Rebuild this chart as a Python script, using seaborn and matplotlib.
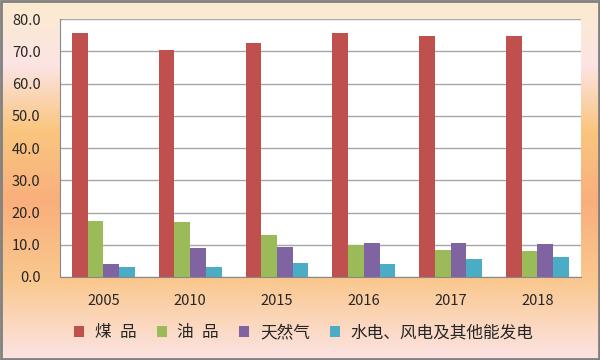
import numpy as np
import pandas as pd
import seaborn as sns
import matplotlib.pyplot as plt
from matplotlib.colors import LinearSegmentedColormap

years = ['2005', '2010', '2015', '2016', '2017', '2018']
types = ['煤\u2002品', '油\u2002品', '天然气', '水电、风电及其他能发电']
coal = [75.6, 70.4, 72.6, 75.6, 74.7, 74.7]
oil = [17.3, 17.0, 13.0, 9.8, 8.4, 8.1]
gas = [3.9, 8.9, 9.3, 10.4, 10.5, 10.3]
hydro = [3.0, 3.1, 4.3, 3.9, 5.6, 6.2]
colors = ['#C0504D', '#9BBB59', '#8064A2', '#4BACC6']

rows = []
for name, vals in zip(types, [coal, oil, gas, hydro]):
    for y, v in zip(years, vals):
        rows.append({'year': y, 'type': name, 'value': v})
df = pd.DataFrame(rows)

sns.set_style('white')
plt.rcParams['font.family'] = ['Noto Sans CJK SC', 'DejaVu Sans']

fig = plt.figure(figsize=(6, 3.6), dpi=100)

# gradient background
bg = fig.add_axes([0, 0, 1, 1], zorder=-10)
cmap = LinearSegmentedColormap.from_list('bg', [
    (0.0, '#FBEBCF'), (0.18, '#FCE4E4'), (0.36, '#FAC67F'),
    (0.56, '#F9AF7C'), (0.78, '#FAC88F'), (1.0, '#FCE4E4')])
bg.imshow(np.linspace(0, 1, 256).reshape(-1, 1), aspect='auto', cmap=cmap,
          extent=[0, 1, 0, 1])
bg.set_axis_off()
fig.patches.append(plt.Rectangle((0.001, 0.002), 0.997, 0.995, transform=fig.transFigure,
                                 fill=False, edgecolor='#808080', linewidth=2))

ax = fig.add_axes([0.1, 0.2306, 0.868, 0.7164])
ax.set_facecolor('white')
sns.barplot(data=df, x='year', y='value', hue='type', palette=colors,
            width=0.725, gap=0, ax=ax, saturation=1, edgecolor='none')

ax.set_ylim(0, 80)
ax.set_yticks(np.arange(0, 81, 10))
ax.set_yticklabels([f'{v:.1f}' for v in np.arange(0, 81, 10)], fontsize=10.5)
ax.set_xlim(-0.5, 5.5)
ax.set_xticks(np.arange(-0.5, 6, 1), minor=False)
ax.set_xticklabels([])
ax.set_xticks(np.arange(6), minor=True)
ax.set_xticklabels(years, minor=True, fontsize=10.5)
ax.tick_params(axis='x', which='major', length=5, color='#888888', direction='out')
ax.tick_params(axis='x', which='minor', length=0, pad=12)
ax.tick_params(axis='y', length=0, pad=14)
ax.yaxis.grid(True, color='#A6A6A6', linewidth=1)
ax.set_axisbelow(True)
for s in ['top', 'right']:
    ax.spines[s].set_visible(False)
for s in ['left', 'bottom']:
    ax.spines[s].set_color('#888888')
ax.set_xlabel('')
ax.set_ylabel('')

handles, labels = ax.get_legend_handles_labels()
ax.legend(handles, labels, loc='center', bbox_to_anchor=(0.468, -0.217), ncol=4,
          frameon=False, fontsize=12, handlelength=0.6, handleheight=0.6,
          handletextpad=0.65, columnspacing=1.2)

fig.savefig('out.png', dpi=100)
